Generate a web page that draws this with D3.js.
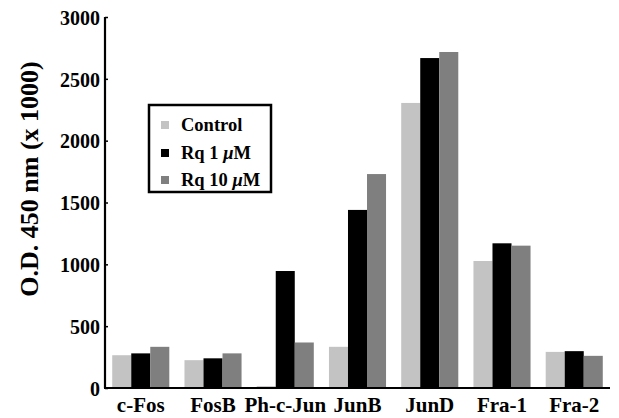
<!DOCTYPE html>
<html><head><meta charset="utf-8">
<script src="https://cdn.jsdelivr.net/npm/d3@7/dist/d3.min.js"></script>
<style>body{margin:0;background:#fff}svg{display:block}text{font-family:"Liberation Serif","Times New Roman",serif;font-weight:bold}</style>
</head><body><svg id="c" width="619" height="418"></svg>
<script>
const categories = ["c-Fos","FosB","Ph-c-Jun","JunB","JunD","Fra-1","Fra-2"];
const seriesNames = ["Control","Rq 1 \u03bcM","Rq 10 \u03bcM"];
const control = [265, 225, 15, 333, 2305, 1027, 292];
const rq1 = [280, 240, 946, 1440, 2668, 1170, 298];
const rq10 = [333, 280, 368, 1730, 2717, 1151, 260];
const yTicks = [0, 500, 1000, 1500, 2000, 2500, 3000];
const colors = ["#c3c3c3", "#000000", "#7f7f7f"];
const series = [control, rq1, rq10];

const svg = d3.select("#c");
const x = d3.scaleBand().domain(categories).range([105, 610]).paddingInner(0.21).paddingOuter(0.1);
const xs = d3.scaleBand().domain(d3.range(3)).range([0, x.bandwidth()]);
const y = d3.scaleLinear().domain([0, 3000]).range([388, 17]);

const g = svg.append("g");
categories.forEach((c, i) => {
  series.forEach((s, j) => {
    g.append("rect")
      .attr("x", x(c) + xs(j))
      .attr("y", y(s[i]))
      .attr("width", xs.bandwidth())
      .attr("height", y(0) - y(s[i]))
      .attr("fill", colors[j]);
  });
});

// y axis
const ya = svg.append("g").attr("transform", "translate(105,0)")
  .call(d3.axisLeft(y).tickValues(yTicks).tickSize(-3).tickPadding(5).tickFormat(d3.format("d")));
ya.select(".domain").attr("stroke-width", 2.2).attr("d", "M0," + y(3000) + "V" + y(0));
ya.selectAll(".tick line").attr("stroke-width", 1.5);
ya.selectAll(".tick text").attr("font-size", 20).attr("fill", "#000").attr("dy", "0.36em");

// x axis
const xa = svg.append("g").attr("transform", "translate(0,388)")
  .call(d3.axisBottom(x).tickSize(0).tickPadding(0));
xa.select(".domain").attr("stroke-width", 2.2).attr("d", "M104,0H610");
xa.selectAll(".tick text").attr("font-size", 21).attr("fill", "#000").attr("dy", null).attr("y", 24);

// y title
svg.append("text")
  .attr("transform", "translate(38,179) rotate(-90)")
  .attr("text-anchor", "middle")
  .attr("font-size", 26)
  .text("O.D. 450 nm (x 1000)");

// legend
const lg = svg.append("g");
lg.append("rect").attr("x", 149).attr("y", 105).attr("width", 122).attr("height", 87)
  .attr("fill", "#fff").attr("stroke", "#000").attr("stroke-width", 2.5);
const rowsY = [125, 153, 180];
seriesNames.forEach((n, j) => {
  lg.append("rect").attr("x", 161).attr("y", rowsY[j] - 4).attr("width", 8).attr("height", 8).attr("fill", colors[j]);
  const t = lg.append("text").attr("x", 181).attr("y", rowsY[j] + 6).attr("font-size", 18.5);
  if (j === 0) t.text(n);
  else {
    const parts = n.split("\u03bc");
    t.append("tspan").text(parts[0]);
    t.append("tspan").attr("font-style", "italic").text("\u03bc");
    t.append("tspan").text(parts[1]);
  }
});
</script></body></html>
